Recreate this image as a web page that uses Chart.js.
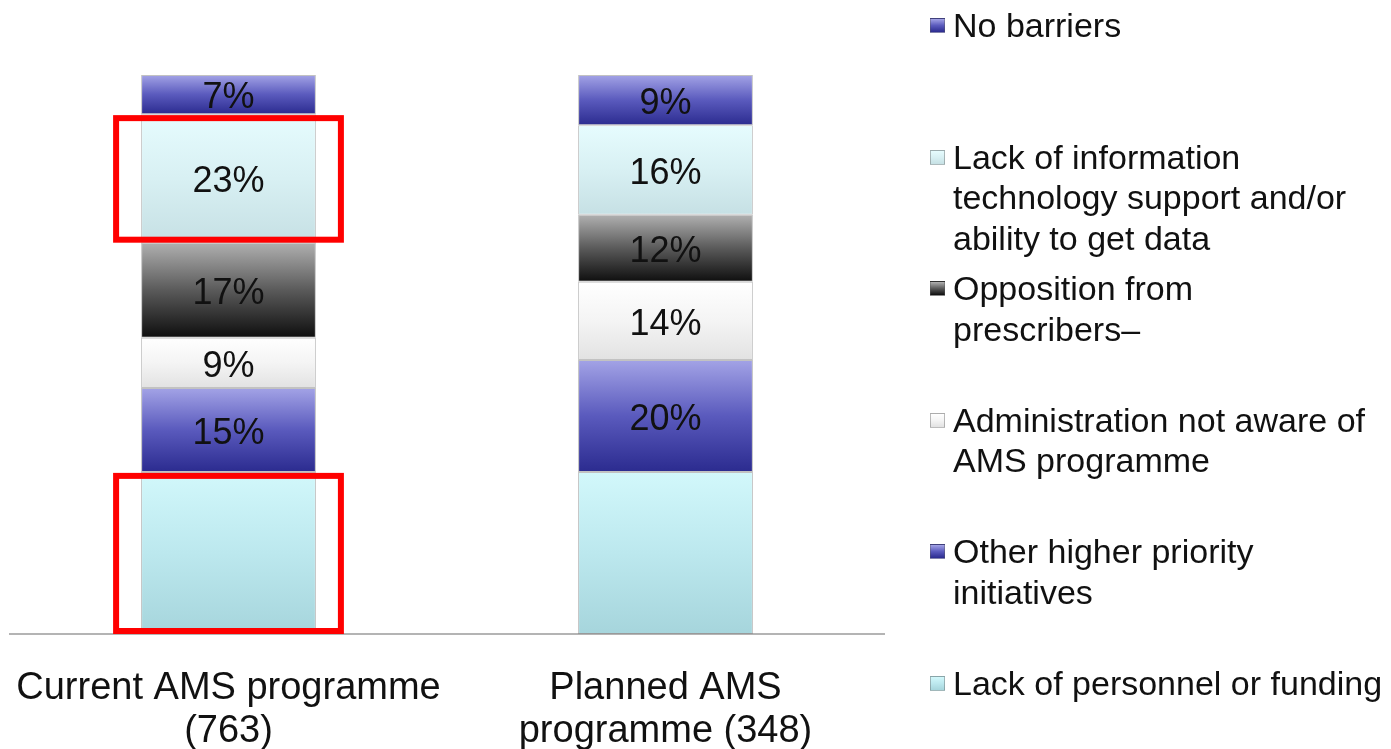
<!DOCTYPE html>
<html lang="en">
<head>
  <meta charset="UTF-8">
  <title>AMS programme barriers</title>
  <script src="https://cdn.jsdelivr.net/npm/chart.js"></script>
  <style>
    html, body {
      margin: 0;
      padding: 0;
      background: #FFFFFF;
    }

    .wrap {
      position: relative;
      width: 1391px;
      height: 749px;
      font-family: 'Liberation Sans', Arial, sans-serif;
    }

    #legend {
      position: absolute;
      left: 930px;
      top: 5px;
    }

    .legend-item {
      position: relative;
      height: 131.6px;
      padding-left: 23px;
      font-size: 34px;
      line-height: 40.5px;
      color: #111;
      white-space: nowrap;
    }

    .legend-item .box {
      position: absolute;
      left: 0;
      top: 13px;
      width: 15px;
      height: 15px;
      box-sizing: border-box;
      border: 1px solid rgba(90, 90, 90, 0.4);
    }
  </style>
</head>
<body>
  <div class="wrap">
    <canvas id="barrierChart" width="1391" height="749"></canvas>
    <div id="legend"></div>
  </div>

  <script>
    // categories on the x axis
    const categories = [['Current AMS programme', '(763)'], ['Planned AMS', 'programme (348)']];

    // series, bottom of the stack first
    const seriesNames = [
      'Lack of personnel or funding',
      'Other higher priority initiatives',
      'Administration not aware of AMS programme',
      'Opposition from prescribers–',
      'Lack of information technology support and/or ability to get data',
      'No barriers'
    ];
    const personnelFunding = [29, 29];
    const higherPriority = [15, 20];
    const adminNotAware = [9, 14];
    const prescriberOpposition = [17, 12];
    const itSupport = [23, 16];
    const noBarriers = [7, 9];
    const seriesValues = [personnelFunding, higherPriority, adminNotAware, prescriberOpposition, itSupport, noBarriers];

    // which series get a % label inside the bar
    const showValue = [false, true, true, true, true, true];

    // legend text as it is wrapped in the picture (top item first)
    const legendLines = [
      ['No barriers'],
      ['Lack of information', 'technology support and/or', 'ability to get data'],
      ['Opposition from', 'prescribers–'],
      ['Administration not aware of', 'AMS programme'],
      ['Other higher priority', 'initiatives'],
      ['Lack of personnel or funding']
    ];

    // segments boxed in red: [series index, category index]
    const highlighted = [[4, 0], [0, 0]];

    // gradient stops (top -> bottom) for each series
    const blueStops = ['#A3A3E6', '#5A5ABD', '#2B2B8F'];
    const seriesStops = [
      ['#D2F8FB', '#BCE8EE', '#A6D5DC'],
      blueStops,
      ['#FFFFFF', '#F4F4F4', '#E2E2E2'],
      ['#B0B0B0', '#5A5A5A', '#0E0E0E'],
      ['#E6FCFE', '#D8F0F3', '#C6E0E4'],
      blueStops
    ];

    function makeGradient(ctx, top, bottom, stops) {
      const g = ctx.createLinearGradient(0, top, 0, bottom);
      g.addColorStop(0, stops[0]);
      g.addColorStop(0.5, stops[1]);
      g.addColorStop(1, stops[2]);
      return g;
    }

    function segmentFill(c) {
      const chart = c.chart;
      const stops = seriesStops[c.datasetIndex];
      const y = chart.scales.y;
      if (!chart.chartArea || !y) return stops[1];
      let start = 0;
      for (let d = 0; d < c.datasetIndex; d++) start += seriesValues[d][c.dataIndex];
      const end = start + seriesValues[c.datasetIndex][c.dataIndex];
      return makeGradient(chart.ctx, y.getPixelForValue(end), y.getPixelForValue(start), stops);
    }

    const valueLabels = {
      id: 'valueLabels',
      afterDatasetsDraw(chart) {
        const ctx = chart.ctx;
        ctx.save();
        ctx.font = "36px 'Liberation Sans', Arial, sans-serif";
        ctx.fillStyle = '#111111';
        ctx.textAlign = 'center';
        ctx.textBaseline = 'middle';
        chart.data.datasets.forEach((ds, i) => {
          if (!showValue[i]) return;
          chart.getDatasetMeta(i).data.forEach((bar, j) => {
            ctx.fillText(ds.data[j] + '%', bar.x, (bar.y + bar.base) / 2 + 4);
          });
        });
        ctx.restore();
      }
    };

    const redBoxes = {
      id: 'redBoxes',
      afterDraw(chart) {
        const ctx = chart.ctx;
        ctx.save();
        ctx.strokeStyle = '#FF0000';
        ctx.lineWidth = 6;
        highlighted.forEach(([s, j]) => {
          const bar = chart.getDatasetMeta(s).data[j];
          const left = bar.x - bar.width / 2 - 25;
          const top = bar.y + 4;
          ctx.strokeRect(left, top, bar.width + 50, bar.base - 3 - top);
        });
        ctx.restore();
      }
    };

    new Chart(document.getElementById('barrierChart'), {
      type: 'bar',
      data: {
        labels: categories,
        datasets: seriesNames.map((name, i) => ({
          label: name,
          data: seriesValues[i],
          backgroundColor: segmentFill,
          borderColor: 'rgba(120, 120, 120, 0.45)',
          borderWidth: 1,
          borderSkipped: false,
          categoryPercentage: 1,
          barPercentage: 0.4
        }))
      },
      options: {
        responsive: false,
        animation: false,
        layout: { padding: { top: 75, left: 10, right: 507, bottom: 0 } },
        plugins: {
          legend: { display: false },
          tooltip: { enabled: false }
        },
        scales: {
          x: {
            stacked: true,
            grid: { display: false },
            border: { display: true, color: '#B4B4B4', width: 2 },
            ticks: {
              color: '#111111',
              padding: 25,
              maxRotation: 0,
              font: { family: "'Liberation Sans', Arial, sans-serif", size: 38, lineHeight: 1.14 }
            },
            afterFit(scale) {
              scale.height = 115;
              scale.paddingLeft = 0;
              scale.paddingRight = 0;
            }
          },
          y: {
            stacked: true,
            display: false,
            min: 0,
            max: 100
          }
        }
      },
      plugins: [valueLabels, redBoxes]
    });

    // html legend, top of stack first
    const legend = document.getElementById('legend');
    legendLines.forEach((lines, k) => {
      const s = seriesNames.length - 1 - k;
      const stops = seriesStops[s];
      const item = document.createElement('div');
      item.className = 'legend-item';
      item.innerHTML = `<span class="box" style="background: linear-gradient(${stops.join(', ')})"></span>` + lines.join('<br>');
      legend.appendChild(item);
    });
  </script>
</body>
</html>
